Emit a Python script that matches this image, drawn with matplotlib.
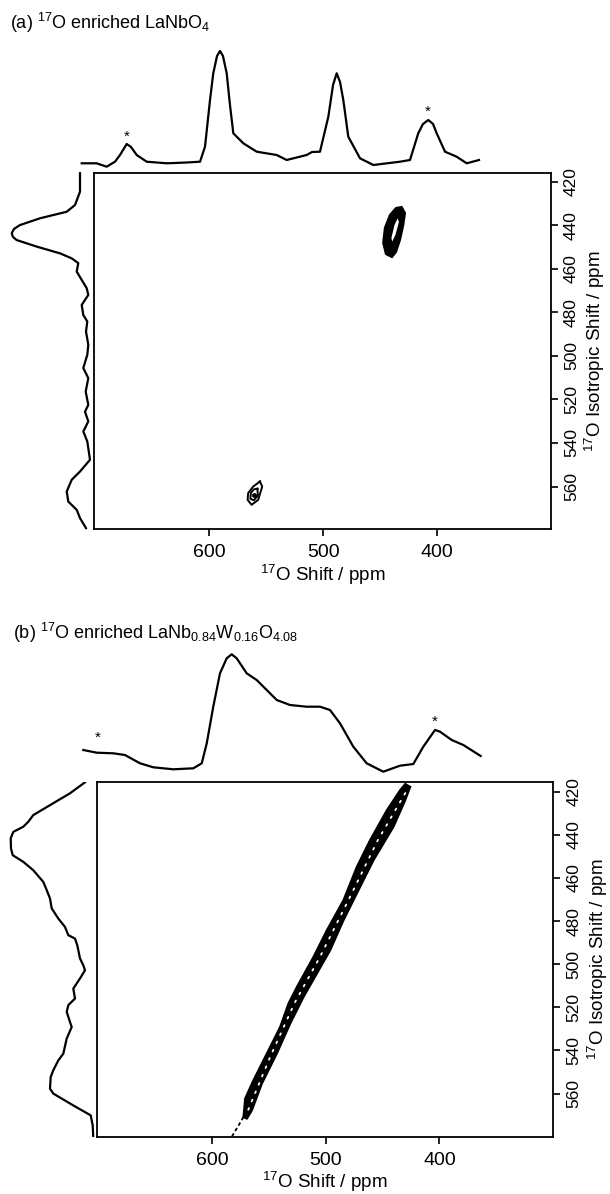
import matplotlib.pyplot as plt

plt.rcParams['font.family'] = ['Liberation Sans', 'DejaVu Sans']
plt.rcParams['mathtext.default'] = 'regular'

# ---------------- (a) 17O enriched LaNbO4 ----------------
# top projection (direct dimension)
a_top_ppm = [707, 691.4, 681.0, 672.3, 667.1, 660.1, 655.6, 649.7, 639.3, 618.4,
             597.6, 583.7, 578.5, 573.3, 569.9, 566.0, 562.9, 559.8, 555.9, 552.5,
             549.0, 538.6, 524.6, 503.8, 493.4, 472.6, 467.0, 458.7, 450.0, 445.1,
             441.3, 437.8, 434.4, 429.2, 417.0, 403.1, 375.3, 364.9, 356.3, 351.4,
             345.8, 340.9, 337.1, 328.4, 316.3, 305.8, 293]
a_top_int = [6.7, 6.7, 3.3, 8.3, 15, 26, 23, 15, 8.3, 6.7,
             7.5, 8.3, 23.3, 70, 96.7, 114, 119, 114, 96.7, 65,
             36.7, 26.7, 18.3, 15, 10, 15, 18, 18.3, 53.3, 85,
             96.7, 88, 70, 33.3, 11.7, 5, 8.3, 10, 36.7, 46,
             50, 46, 36.7, 18.3, 13.3, 6.7, 10]
a_star_ppm = [660.1, 346.8]
a_star_int = [37.3, 62.7]

# side projection (isotropic dimension)
a_side_ppm = [416.1, 424.6, 430.7, 433.8, 436.8, 439.9, 441.7, 443.7, 445.4, 446.8,
              449.8, 452.9, 455.2, 457.4, 461.3, 465.1, 468.9, 472.0, 476.6, 481.2,
              484.2, 488.8, 494.9, 499.5, 505.6, 510.2, 516.4, 522.5, 525.6, 530.1,
              534.7, 539.3, 547.7, 553.1, 556.9, 562.3, 566.9, 570.7, 574.5, 579.1]
a_side_int = [15, 15, 20, 28.3, 55, 75, 81, 83.3, 82, 78.3,
              58.3, 35, 23.3, 16.7, 18.3, 13.3, 8.3, 6.7, 13.3, 11.7,
              7.7, 9, 6.7, 7.7, 11.7, 6.7, 9.3, 6.7, 10, 6.7,
              11.7, 7.7, 5, 15, 23.3, 28.3, 26.7, 18.3, 15, 9]

# 2D contours
a_c1_x = [431.2, 428.3, 429.8, 432.7, 436.2, 439.7, 445.0, 447.4, 445.9, 441.5, 436.2]
a_c1_y = [431.6, 434.4, 439.9, 446.8, 452.3, 454.6, 453.2, 448.1, 441.2, 435.3, 432.1]
a_c1_hole_x = [434.7, 433.6, 436.7, 439.5, 440.2, 437.5]
a_c1_hole_y = [436.8, 438.5, 444.5, 447.5, 445.8, 439.9]
a_c2_out_x = [555.5, 553.5, 557.0, 562.8, 566.3, 565.8, 561.4, 555.5]
a_c2_out_y = [557.7, 560.0, 566.1, 568.4, 566.1, 563.0, 560.0, 557.7]
a_c2_in_x = [557.7, 557.3, 560.8, 563.9, 563.4, 560.8, 557.7]
a_c2_in_y = [561.0, 564.2, 566.3, 565.6, 562.9, 561.3, 561.0]
a_c2_dot = [561.0, 563.8]

# ---------------- (b) 17O enriched LaNb0.84W0.16O4.08 ----------------
b_top_ppm = [707, 693.0, 675.7, 663.6, 647.9, 634.1, 613.2, 592.4, 583.6, 578.4,
             571.6, 564.6, 557.6, 552.4, 547.2, 536.8, 526.4, 515.9, 505.5, 491.7,
             474.3, 460.4, 450.0, 439.6, 425.7, 411.8, 394.5, 377.1, 363.2, 352.8,
             340.6, 335.4, 323.2, 311.1, 293]
b_top_int = [30, 27.3, 26.7, 25, 16.7, 12.7, 10.7, 11.7, 16.7, 36.7,
             73.3, 106.7, 121.7, 125.7, 121.7, 106.7, 100, 90, 80, 75,
             73.3, 73.3, 70, 56.7, 33.3, 16.7, 8.3, 14.3, 16, 33.3,
             50, 48.3, 40, 35, 24]
b_star_ppm = [692.0, 340.6]
b_star_int = [46.7, 62.7]

b_side_ppm = [415.6, 420.7, 426.2, 430.8, 433.9, 436.2, 438.6, 441.6, 446.3, 449.4,
              452.5, 456.4, 461.8, 465.6, 469.5, 474.1, 478.8, 482.7, 486.5, 488.1,
              491.2, 497.3, 500.5, 502.8, 506.6, 511.3, 515.9, 519.0, 522.1, 526.8,
              529.1, 534.5, 541.5, 544.6, 549.2, 552.3, 557.7, 560.0, 565.5, 570.1,
              574.7, 580.6]
b_side_int = [10, 25, 45, 61.7, 66.7, 71.7, 81.7, 84.3, 84, 82.3,
              71.7, 61.7, 51.7, 48.3, 45, 43.3, 36.7, 30, 26.7, 20,
              17.7, 15, 11.7, 10, 15, 21.7, 20, 26.7, 28.3, 25,
              23.3, 28.3, 31.7, 36.7, 41.7, 44.3, 45, 41.7, 21.7, 4.3,
              2.3, 1.7]

# diagonal ridge outline (left edge upwards, then right edge downwards)
b_ridge_x = [572.7, 571.2, 563.9, 553.6, 540.4, 533.0, 525.6, 511.0, 499.2, 484.6,
             472.8, 461.1, 446.3, 434.6, 430.2, 425.8, 430.2, 440.5, 458.1, 469.9,
             484.6, 496.3, 508.0, 519.8, 531.5, 543.3, 556.5, 565.3, 569.7]
b_ridge_y = [570.9, 562.3, 553.8, 543.0, 529.1, 518.2, 510.5, 496.6, 484.2, 470.3,
             454.8, 442.4, 428.5, 419.2, 416.4, 417.7, 423.9, 436.2, 451.7, 464.1,
             479.6, 493.5, 504.3, 515.2, 527.5, 541.4, 555.4, 567.8, 571.6]
b_ridge_mid_x = [568.5, 549.2, 527.7, 505.3, 480.0, 454.3, 430.0]
b_ridge_mid_y = [567.5, 543.0, 518.0, 496.6, 470.0, 442.4, 420.5]
b_diag_x = [572.7, 583.5]
b_diag_y = [570.9, 580.5]

x_ticks = [600, 500, 400]
y_ticks = [420, 440, 460, 480, 500, 520, 540, 560]

W, H = 610, 1194
fig = plt.figure(figsize=(W / 100, H / 100), dpi=100)


def px_axes(x0, y0, x1, y1, **kw):
    return fig.add_axes([x0 / W, 1 - y1 / H, (x1 - x0) / W, (y1 - y0) / H], **kw)


def style_main(ax, xlim, ylim, lab_x):
    ax.set_xlim(*xlim)
    ax.set_ylim(*ylim)
    ax.set_xticks(x_ticks)
    ax.set_yticks(y_ticks)
    ax.yaxis.tick_right()
    ax.yaxis.set_label_position('right')
    ax.tick_params(axis='x', direction='out', length=5, width=1.2, pad=6, labelsize=14)
    ax.tick_params(axis='y', direction='out', length=5, width=1.2, pad=4.5, labelsize=12.5,
                   labelrotation=90)
    for lab in ax.get_yticklabels():
        lab.set_va('center')
    for s in ax.spines.values():
        s.set_linewidth(1.3)
    ax.set_xlabel(r'$^{17}$O Shift / ppm', fontsize=13.5, labelpad=1)
    ax.set_ylabel(r'$^{17}$O Isotropic Shift / ppm', fontsize=13.5)
    ax.yaxis.set_label_coords(lab_x, 0.5)


def style_top(ax):
    ax.set_xlim(707, 293)
    ax.set_ylim(0, 130)
    ax.axis('off')


def add_stars(ax, xs, ys):
    for x, y in zip(xs, ys):
        ax.annotate('*', (x, y), xytext=(0, -6), textcoords='offset points',
                    ha='center', va='baseline', fontsize=11)


# ---- panel (a) ----
ax_a = px_axes(94, 173, 550.7, 529)
style_main(ax_a, (701, 300.5), (579.5, 416), 1.07)
ax_a.fill(a_c1_x, a_c1_y, color='black', lw=1.5)
ax_a.fill(a_c1_hole_x, a_c1_hole_y, color='white', lw=0)
ax_a.plot(a_c2_out_x, a_c2_out_y, color='black', lw=1.4)
ax_a.plot(a_c2_in_x, a_c2_in_y, color='black', lw=1.4)
ax_a.plot([a_c2_dot[0]], [a_c2_dot[1]], 'o', color='black', ms=2.5)

top_a = px_axes(81.7, 40, 479, 170)
style_top(top_a)
top_a.plot(a_top_ppm, a_top_int, color='black', lw=1.6, clip_on=False)
add_stars(top_a, a_star_ppm, a_star_int)

side_a = px_axes(0, 173, 95, 529, sharey=ax_a)
side_a.plot(a_side_int, a_side_ppm, color='black', lw=1.6, clip_on=False)
side_a.set_xlim(95, 0)
side_a.axis('off')

fig.text(10 / W, 1 - 29 / H, r'(a) $^{17}$O enriched LaNbO$_4$', fontsize=13, va='baseline')

# ---- panel (b) ----
ax_b = px_axes(96.7, 782.3, 553, 1136.7)
style_main(ax_b, (702, 300), (580, 415.6), 1.072)
ax_b.fill(b_ridge_x, b_ridge_y, color='black', lw=1.5)
ax_b.plot(b_ridge_mid_x, b_ridge_mid_y, color='white', lw=1.3,
          linestyle=(0, (1, 4)), dash_capstyle='round')
ax_b.plot(b_diag_x, b_diag_y, color='black', lw=1.3, linestyle=(0, (2, 1.5)))

top_b = px_axes(83.3, 650, 480.7, 780)
style_top(top_b)
top_b.plot(b_top_ppm, b_top_int, color='black', lw=1.6, clip_on=False)
add_stars(top_b, b_star_ppm, b_star_int)

side_b = px_axes(0, 782.3, 95, 1136.7, sharey=ax_b)
side_b.plot(b_side_int, b_side_ppm, color='black', lw=1.6)
side_b.set_xlim(95, 0)
side_b.axis('off')

fig.text(13 / W, 1 - 639 / H, r'(b) $^{17}$O enriched LaNb$_{0.84}$W$_{0.16}$O$_{4.08}$',
         fontsize=13, va='baseline')

fig.savefig('out.png', dpi=100)
